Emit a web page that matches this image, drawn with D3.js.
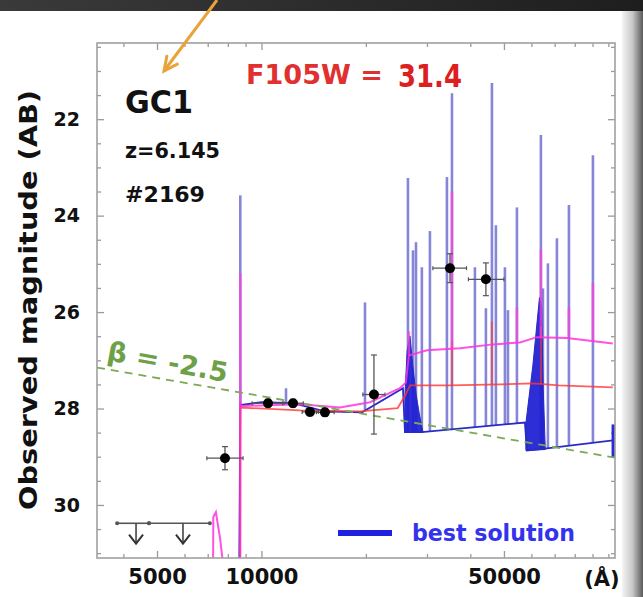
<!DOCTYPE html>
<html><head><meta charset="utf-8">
<script src="https://cdn.jsdelivr.net/npm/d3@7"></script>
<style>
body{margin:0;background:#fff}
svg{display:block}
text{font-family:"DejaVu Sans",sans-serif;font-weight:bold}
</style>
</head><body>
<svg id="c" width="643" height="597"></svg>
<script>
// ---------------- data ----------------
const lamMajor = [5000, 10000, 50000];
const lamMinor = [4000, 6000, 7000, 8000, 9000, 20000, 30000, 40000, 60000, 70000, 80000, 90000, 100000];
const magMajor = [22, 24, 26, 28, 30];
const magMinor = [20.5, 21, 21.5, 22.5, 23, 23.5, 24.5, 25, 25.5, 26.5, 27, 27.5, 28.5, 29, 29.5, 30.5, 31];

// photometry
const photLam    = [7850, 10445, 12330, 13800, 15240, 21100, 34950, 44360];
const photMag    = [29.03, 27.89, 27.89, 28.07, 28.08, 27.71, 25.09, 25.32];
const photMagErr = [0.24, 0.08, 0.08, 0.08, 0.08, 0.82, 0.30, 0.34];
const photLamLo  = [6960, 9400, 11600, 13100, 14400, 19600, 31200, 39500];
const photLamHi  = [8850, 11500, 13200, 14600, 16200, 22700, 39000, 50000];

// upper limits
const limLam = [4350, 5940];
const limLo  = [3837, 4740];
const limHi  = [4740, 7100];
const limMag = [30.38, 30.38];
const limArrowTo = [30.8, 30.8];

// best solution (blue) continuum and emission lines
const blueContLam = [8600, 8690, 10000, 12330, 15240, 19490, 25580, 25920, 29000, 57470, 58250, 65640, 103000];
const blueContMag = [33, 27.93, 27.87, 27.89, 28.06, 28.08, 27.58, 28.49, 28.49, 28.29, 28.87, 28.83, 28.66];
const blueLineLam  = [8690, 11770, 19880, 26440, 27340, 27890, 29000, 30590, 34250, 35415, 41240, 44360, 46170, 47400, 50330, 51350, 54500, 63900, 64770, 66950, 71070, 76970, 90260];
const blueLinePeak = [23.58, 27.58, 25.80, 23.22, 24.72, 24.55, 25.07, 24.32, 23.20, 21.46, 25.07, 25.92, 21.25, 24.20, 25.07, 25.96, 23.83, 22.33, 25.51, 24.99, 24.47, 23.78, 22.75];
const balmerForestLam = [25920, 25920, 26300, 26800, 27300, 27900, 28500, 29200];
const balmerForestMag = [28.49, 27.70, 26.80, 26.50, 27.10, 27.70, 28.10, 28.49];
const paschenForestLam = [57850, 57850, 60600, 63300, 64200, 64900, 65800];
const paschenForestMag = [28.87, 28.30, 27.10, 25.70, 25.90, 27.60, 28.85];
const blueEdgeLam = [103500, 103500];
const blueEdgeMag = [28.33, 29.01];

// magenta model
const magentaLam = [7250, 7265, 7390, 7600, 7860, 8680, 8690, 8740, 12915, 16840, 20555, 25070, 26080, 26600, 30000, 37350, 46480, 55600, 62240, 75960, 103000];
const magentaMag = [31.6, 30.25, 30.15, 30.7, 31.6, 33, 27.87, 27.95, 27.91, 27.98, 27.87, 27.58, 27.46, 26.90, 26.79, 26.75, 26.67, 26.63, 26.52, 26.54, 26.65];
const magentaLineLam  = [8690, 26600, 35415, 54500, 63900, 76970, 90260];
const magentaLinePeak = [25.2, 26.4, 23.5, 25.9, 24.7, 25.9, 25.4];

// red model
const redLam = [8680, 8700, 12900, 19200, 24700, 25950, 26800, 34950, 48500, 60900, 71900, 103000];
const redMag = [33, 27.98, 28.04, 28.06, 27.99, 27.73, 27.52, 27.52, 27.50, 27.48, 27.52, 27.56];
const redLineLam  = [35415, 46170, 63900];
const redLinePeak = [26.6, 26.2, 26.3];

// beta slope
const betaLam = [3357, 104500];
const betaMag = [27.15, 29.02];

// ---------------- drawing ----------------
const W = 643, H = 597;
const L = 97, R = 615, T = 43, B = 558;
const x = d3.scaleLog().domain([3357, 104500]).range([L, R]);
const y = d3.scaleLinear().domain([20.42, 31.1]).range([T, B]);

const svg = d3.select('#c');
const defs = svg.append('defs');
const gTop = defs.append('linearGradient').attr('id', 'gt').attr('x1', 0).attr('x2', 1).attr('y1', 0).attr('y2', 0);
gTop.append('stop').attr('offset', 0).attr('stop-color', '#3a3a3a');
gTop.append('stop').attr('offset', 1).attr('stop-color', '#1e1e1e');
const gR = defs.append('linearGradient').attr('id', 'gr').attr('x1', 0).attr('x2', 1).attr('y1', 0).attr('y2', 0);
gR.append('stop').attr('offset', 0).attr('stop-color', '#f4f4f4');
gR.append('stop').attr('offset', 0.5).attr('stop-color', '#c8c8c8');
gR.append('stop').attr('offset', 1).attr('stop-color', '#5a5a5a');
defs.append('clipPath').attr('id', 'clip').append('rect')
  .attr('x', L).attr('y', T).attr('width', R - L).attr('height', B - T);

svg.append('rect').attr('width', W).attr('height', H).attr('fill', '#fff');
svg.append('rect').attr('x', 622).attr('y', 0).attr('width', 21).attr('height', H).attr('fill', 'url(#gr)');
svg.append('rect').attr('x', 0).attr('y', 0).attr('width', W).attr('height', 11).attr('fill', 'url(#gt)');

// axes
const tickCol = '#9a9a9a';
function styleAxis(g) {
  g.select('.domain').remove();
  g.selectAll('.tick line').attr('stroke', tickCol).attr('stroke-width', 1.3);
  g.selectAll('.tick text').attr('fill', '#111').attr('font-family', '"DejaVu Sans",sans-serif').attr('font-weight', 'bold');
}
const fmt = d => String(d);
svg.append('g').attr('transform', `translate(${L},0)`)
  .call(d3.axisLeft(y).tickValues(magMajor).tickSize(-7).tickPadding(17).tickFormat(fmt))
  .call(styleAxis).call(g => g.selectAll('.tick text').attr('font-size', 19));
svg.append('g').attr('transform', `translate(${L},0)`)
  .call(d3.axisLeft(y).tickValues(magMinor).tickSize(-4).tickFormat(''))
  .call(styleAxis);
svg.append('g').attr('transform', `translate(${R},0)`)
  .call(d3.axisRight(y).tickValues(magMajor).tickSize(-7).tickFormat(''))
  .call(styleAxis);
svg.append('g').attr('transform', `translate(${R},0)`)
  .call(d3.axisRight(y).tickValues(magMinor).tickSize(-4).tickFormat(''))
  .call(styleAxis);
svg.append('g').attr('transform', `translate(0,${B})`)
  .call(d3.axisBottom(x).tickValues(lamMajor).tickSize(-7).tickPadding(11).tickFormat(fmt))
  .call(styleAxis).call(g => g.selectAll('.tick text').attr('font-size', 21));
svg.append('g').attr('transform', `translate(0,${B})`)
  .call(d3.axisBottom(x).tickValues(lamMinor).tickSize(-4).tickFormat(''))
  .call(styleAxis);
svg.append('g').attr('transform', `translate(0,${T})`)
  .call(d3.axisTop(x).tickValues(lamMajor).tickSize(-7).tickFormat(''))
  .call(styleAxis);
svg.append('g').attr('transform', `translate(0,${T})`)
  .call(d3.axisTop(x).tickValues(lamMinor).tickSize(-4).tickFormat(''))
  .call(styleAxis);

svg.append('text').attr('x', 602).attr('y', 586).attr('text-anchor', 'middle')
  .attr('font-size', 21).attr('fill', '#111').text('(Å)');
svg.append('text').attr('transform', 'translate(37,300) rotate(-90)').attr('text-anchor', 'middle')
  .attr('font-size', 25).attr('fill', '#111').attr('textLength', 420).attr('lengthAdjust', 'spacingAndGlyphs')
  .text('Observed magnitude (AB)');

// plot contents
const P = svg.append('g').attr('clip-path', 'url(#clip)');
const zip = (a, b) => a.map((v, i) => [v, b[i]]);
const line = d3.line().x(d => x(d[0])).y(d => y(d[1]));
function contAt(lam, la, ma) {
  const lx = Math.log10(lam);
  for (let i = 0; i < la.length - 1; i++) {
    const a = Math.log10(la[i]), b = Math.log10(la[i + 1]);
    if (lx >= a && lx <= b) return ma[i] + (ma[i + 1] - ma[i]) * (lx - a) / (b - a || 1);
  }
  return ma[ma.length - 1];
}

// blue emission lines
P.append('g').selectAll('line').data(blueLineLam).join('line')
  .attr('x1', d => x(d)).attr('x2', d => x(d))
  .attr('y1', d => y(contAt(d, blueContLam, blueContMag)))
  .attr('y2', (d, i) => y(blueLinePeak[i]))
  .attr('stroke', '#3c3cc0').attr('stroke-opacity', 0.62).attr('stroke-width', 2.6);
// forests
[[balmerForestLam, balmerForestMag], [paschenForestLam, paschenForestMag]].forEach(([la, ma]) => {
  P.append('path').attr('d', line(zip(la, ma)) + 'Z')
    .attr('fill', '#1c1cd2').attr('fill-opacity', 0.92).attr('stroke', '#2a2ac0').attr('stroke-width', 1);
});
// blue continuum
P.append('path').attr('d', line(zip(blueContLam, blueContMag)))
  .attr('fill', 'none').attr('stroke', '#2a2ac8').attr('stroke-width', 1.8);
P.append('path').attr('d', line(zip(blueEdgeLam, blueEdgeMag)))
  .attr('fill', 'none').attr('stroke', '#2a2ad8').attr('stroke-width', 4);

// red model
P.append('g').selectAll('line').data(redLineLam).join('line')
  .attr('x1', d => x(d)).attr('x2', d => x(d))
  .attr('y1', d => y(contAt(d, redLam, redMag)))
  .attr('y2', (d, i) => y(redLinePeak[i]))
  .attr('stroke', '#ff3a3a').attr('stroke-opacity', 0.6).attr('stroke-width', 2.2);
P.append('path').attr('d', line(zip(redLam, redMag)))
  .attr('fill', 'none').attr('stroke', '#ff3434').attr('stroke-opacity', 0.8).attr('stroke-width', 1.8);

// magenta model
P.append('g').selectAll('line').data(magentaLineLam).join('line')
  .attr('x1', d => x(d)).attr('x2', d => x(d))
  .attr('y1', d => y(contAt(d, magentaLam, magentaMag)))
  .attr('y2', (d, i) => y(magentaLinePeak[i]))
  .attr('stroke', '#ff40dc').attr('stroke-opacity', 0.7).attr('stroke-width', 2.6);
P.append('path').attr('d', line(zip(magentaLam, magentaMag)))
  .attr('fill', 'none').attr('stroke', '#ff33dd').attr('stroke-opacity', 0.85).attr('stroke-width', 2);

// beta line
P.append('path').attr('d', line(zip(betaLam, betaMag)))
  .attr('fill', 'none').attr('stroke', '#7aaa55').attr('stroke-width', 1.8).attr('stroke-dasharray', '8,6');

// photometry
const ph = P.append('g');
photLam.forEach((l, i) => {
  const cx = x(l), cy = y(photMag[i]);
  const y1 = y(photMag[i] - photMagErr[i]), y2 = y(photMag[i] + photMagErr[i]);
  ph.append('line').attr('x1', x(photLamLo[i])).attr('x2', x(photLamHi[i])).attr('y1', cy).attr('y2', cy)
    .attr('stroke', '#555').attr('stroke-width', 1.3);
  ph.append('line').attr('x1', cx).attr('x2', cx).attr('y1', y1).attr('y2', y2)
    .attr('stroke', '#555').attr('stroke-width', 1.3);
  [y1, y2].forEach(v => ph.append('line').attr('x1', cx - 3).attr('x2', cx + 3).attr('y1', v).attr('y2', v)
    .attr('stroke', '#555').attr('stroke-width', 1.2));
  [x(photLamLo[i]), x(photLamHi[i])].forEach(v => ph.append('line').attr('x1', v).attr('x2', v).attr('y1', cy - 2).attr('y2', cy + 2)
    .attr('stroke', '#555').attr('stroke-width', 1.2));
  ph.append('circle').attr('cx', cx).attr('cy', cy).attr('r', 5).attr('fill', '#000');
});

// upper limits
limLam.forEach((l, i) => {
  const cx = x(l), cy = y(limMag[i]), ty = y(limArrowTo[i]);
  ph.append('line').attr('x1', x(limLo[i])).attr('x2', x(limHi[i])).attr('y1', cy).attr('y2', cy)
    .attr('stroke', '#555').attr('stroke-width', 1.6);
  ph.append('circle').attr('cx', x(limLo[i])).attr('cy', cy).attr('r', 2).attr('fill', '#555');
  ph.append('circle').attr('cx', x(limHi[i])).attr('cy', cy).attr('r', 2).attr('fill', '#555');
  ph.append('line').attr('x1', cx).attr('x2', cx).attr('y1', cy).attr('y2', ty)
    .attr('stroke', '#444').attr('stroke-width', 1.6);
  ph.append('path').attr('d', `M${cx - 7},${ty - 9}L${cx},${ty}L${cx + 7},${ty - 9}`)
    .attr('fill', 'none').attr('stroke', '#333').attr('stroke-width', 2);
});

// frame
svg.append('rect').attr('x', L).attr('y', T).attr('width', R - L).attr('height', B - T)
  .attr('fill', 'none').attr('stroke', '#a0a0a0').attr('stroke-width', 1.6);

// texts
svg.append('text').attr('x', 125).attr('y', 113).attr('font-size', 32).attr('fill', '#111')
  .attr('textLength', 68).attr('lengthAdjust', 'spacingAndGlyphs').text('GC1');
svg.append('text').attr('x', 125).attr('y', 158).attr('font-size', 21).attr('fill', '#111')
  .attr('textLength', 95).attr('lengthAdjust', 'spacingAndGlyphs').text('z=6.145');
svg.append('text').attr('x', 125).attr('y', 202).attr('font-size', 22).attr('fill', '#111')
  .attr('textLength', 80).attr('lengthAdjust', 'spacingAndGlyphs').text('#2169');
svg.append('text').attr('x', 246).attr('y', 84).attr('font-size', 27).attr('fill', '#e03030')
  .attr('textLength', 137).attr('lengthAdjust', 'spacingAndGlyphs').text('F105W =');
svg.append('text').attr('x', 398).attr('y', 87).attr('font-size', 32).attr('fill', '#dd1f1f')
  .attr('font-weight', 900).attr('textLength', 64).attr('lengthAdjust', 'spacingAndGlyphs').text('31.4');
svg.append('text').attr('transform', 'translate(106,360) rotate(10.5)').attr('font-size', 27)
  .attr('fill', '#6ea048').attr('textLength', 122).attr('lengthAdjust', 'spacingAndGlyphs').text('β = -2.5');

// legend
svg.append('line').attr('x1', 338).attr('x2', 392).attr('y1', 533).attr('y2', 533)
  .attr('stroke', '#2020e0').attr('stroke-width', 6);
svg.append('text').attr('x', 412).attr('y', 541).attr('font-size', 23).attr('fill', '#3333ee')
  .attr('textLength', 163).attr('lengthAdjust', 'spacingAndGlyphs').text('best solution');

// orange arrow
const ax0 = 217, ay0 = 0, ax1 = 164, ay1 = 71;
const ang = Math.atan2(ay0 - ay1, ax0 - ax1);
const hl = 15, ha = 0.45;
svg.append('path').attr('d', `M${ax0},${ay0}L${ax1},${ay1}`).attr('stroke', '#e8a33a').attr('stroke-width', 3).attr('fill', 'none');
svg.append('path').attr('d',
  `M${ax1 + hl * Math.cos(ang + ha)},${ay1 + hl * Math.sin(ang + ha)}L${ax1},${ay1}L${ax1 + hl * Math.cos(ang - ha)},${ay1 + hl * Math.sin(ang - ha)}`)
  .attr('stroke', '#e8a33a').attr('stroke-width', 3).attr('fill', 'none').attr('stroke-linecap', 'round');
</script>
</body></html>
